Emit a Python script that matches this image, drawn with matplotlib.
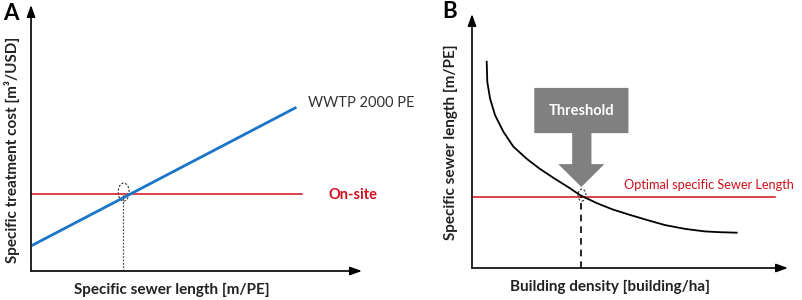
import matplotlib
matplotlib.use("Agg")
import matplotlib.pyplot as plt
from matplotlib.patches import Ellipse, Polygon

plt.rcParams['font.family'] = ['Lato', 'DejaVu Sans']

# panel A: treatment cost vs sewer length
wwtp_x = [0.06, 7.98]
wwtp_y = [0.98, 6.13]
onsite_x = [0.0, 8.2]
onsite_y = [2.89, 2.89]
a_cross_x = 2.77

# panel B: sewer length vs building density
dens_x = [0.465, 0.484, 0.570, 0.728, 0.991, 1.307, 1.741, 2.152, 2.563, 3.101,
          3.418, 3.956, 4.462, 5.000, 5.538, 6.108, 6.741, 7.373, 7.848, 8.377]
sewer_y = [8.12, 7.33, 6.68, 6.02, 5.37, 4.78, 4.29, 3.90, 3.56, 3.14,
           2.87, 2.55, 2.30, 2.09, 1.89, 1.69, 1.54, 1.44, 1.41, 1.39]
opt_x = [0.0, 9.59]
opt_y = [2.80, 2.80]
b_cross_x = 3.46

RED = '#d0101c'
BLUE = '#1a75c8'
GREY = '#808080'

W, H = 803, 300
fig = plt.figure(figsize=(W / 100, H / 100), dpi=100)


def frame(left, bottom, right, top):
    ax = fig.add_axes([left / W, 1 - bottom / H, (right - left) / W, (bottom - top) / H])
    ax.set_xlim(0, 10)
    ax.set_ylim(0, 10)
    ax.axis('off')
    arrow = dict(arrowstyle='-|>,head_length=0.7,head_width=0.25', lw=1.2,
                 color='black', shrinkA=0, shrinkB=0)
    ax.annotate('', xy=(1, 0), xytext=(0, 0), xycoords='axes fraction', arrowprops=arrow)
    ax.annotate('', xy=(0, 1), xytext=(0, 0), xycoords='axes fraction', arrowprops=arrow)
    return ax


# ---- A ----
axa = frame(31, 271, 362, 5)
axa.plot(onsite_x, onsite_y, color=RED, lw=1.1)
axa.plot(wwtp_x, wwtp_y, color=BLUE, lw=2.0)
axa.plot([a_cross_x, a_cross_x], [0, onsite_y[0]], color='#555555', lw=0.9,
         ls=(0, (1.5, 1.2)))
axa.add_patch(Ellipse((a_cross_x + 0.03, 2.97), 0.33, 0.68, fill=False,
                      ls=(0, (2, 1.5)), lw=0.8, color='#333333'))
axa.text(8.37, 6.33, 'WWTP 2000 PE', fontsize=10.5, color='#333333', va='center')
axa.text(8.99, onsite_y[0] - 0.04, 'On-site', fontsize=10.5, color=RED,
         fontweight='bold', va='center')

fig.text(172 / W, 1 - 290 / H, 'Specific sewer length [m/PE]', fontsize=11,
         fontweight='bold', ha='center', va='center', color='#222222')
fig.text(12 / W, 1 - 150 / H, 'Specific treatment cost [m³/USD]', fontsize=11,
         fontweight='bold', ha='center', va='center', rotation=90, color='#222222')
fig.text(3 / W, 1 - 13 / H, 'A', fontsize=16, fontweight='bold', va='center')

# ---- B ----
axb = frame(472, 268, 788, 14)
axb.plot(opt_x, opt_y, color=RED, lw=1.1)
axb.plot(dens_x, sewer_y, color='black', lw=1.3)
axb.plot([b_cross_x, b_cross_x], [0, opt_y[0]], color='black', lw=1.2,
         ls=(0, (4, 3)))
axb.add_patch(Ellipse((b_cross_x + 0.02, 2.87), 0.25, 0.47, fill=False,
                      ls=(0, (2, 1.5)), lw=0.8, color='#333333'))

# threshold block arrow pointing at the intersection
tx, ty = b_cross_x, 3.19
shape = [(-1.49, 3.90), (1.49, 3.90), (1.49, 2.12), (0.32, 2.12), (0.32, 0.90),
         (0.73, 0.90), (0.0, 0.0), (-0.73, 0.90), (-0.29, 0.90), (-0.29, 2.12),
         (-1.49, 2.12)]
axb.add_patch(Polygon([(tx + dx, ty + dy) for dx, dy in shape], closed=True,
                      facecolor=GREY, edgecolor='none'))
axb.text(tx, ty + 3.01, 'Threshold', fontsize=10.5, fontweight='bold', color='white',
         ha='center', va='center')
axb.text(4.80, 3.25, 'Optimal specific Sewer Length', fontsize=9.2, color=RED,
         va='center')

fig.text(610 / W, 1 - 287 / H, 'Building density [building/ha]', fontsize=11,
         fontweight='bold', ha='center', va='center', color='#222222')
fig.text(451 / W, 1 - 142 / H, 'Specific sewer length [m/PE]', fontsize=11,
         fontweight='bold', ha='center', va='center', rotation=90, color='#222222')
fig.text(442 / W, 1 - 12 / H, 'B', fontsize=16, fontweight='bold', va='center')

fig.savefig('out.png', dpi=100)
